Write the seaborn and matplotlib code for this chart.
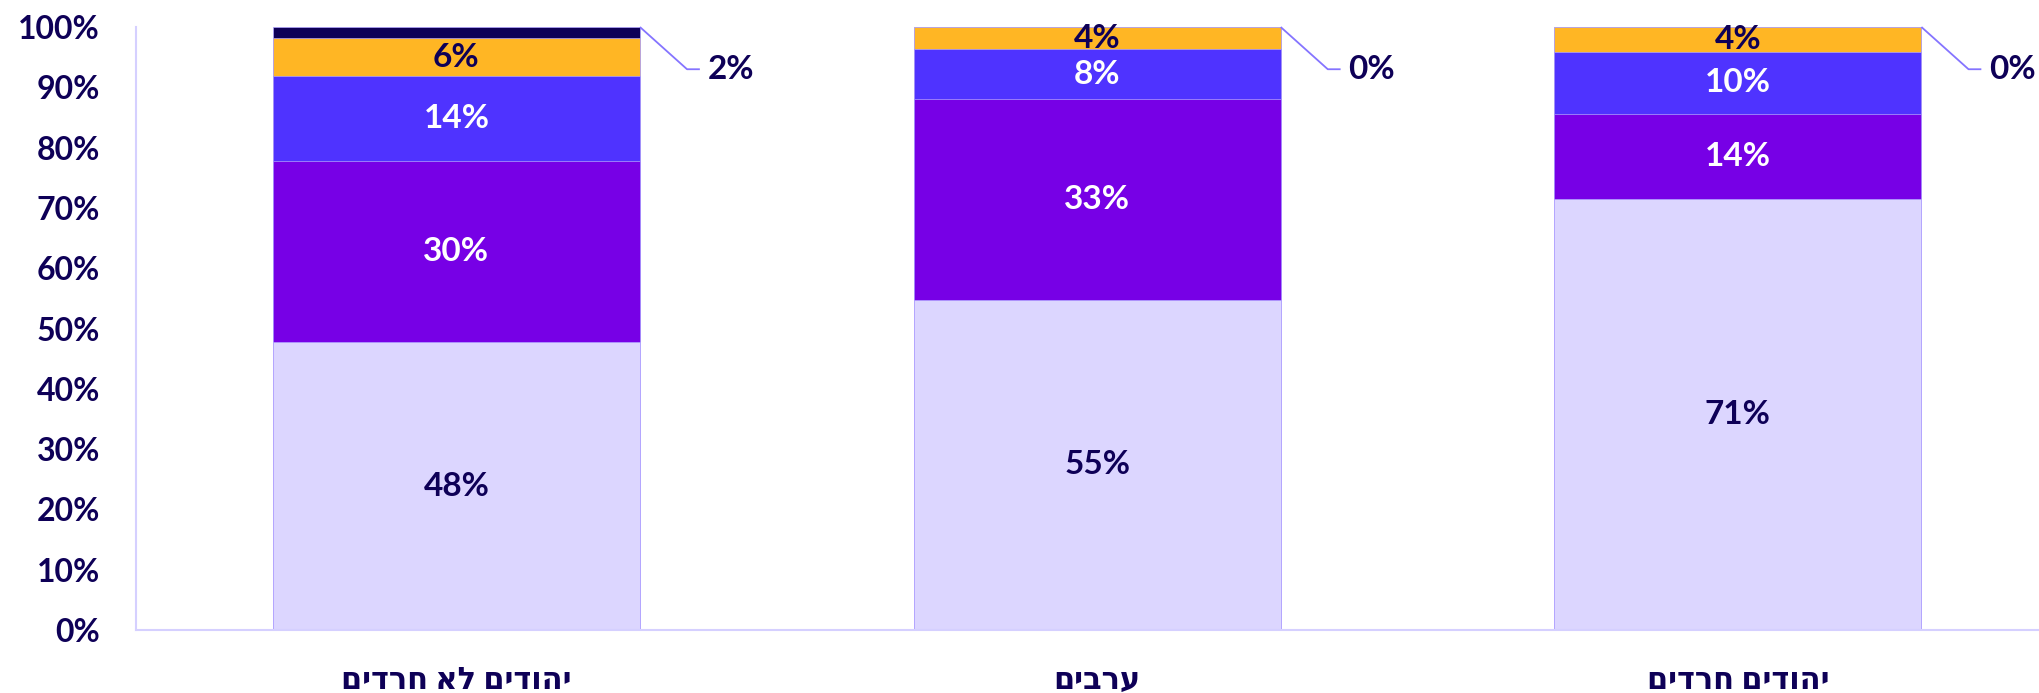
import numpy as np
import pandas as pd
import matplotlib
matplotlib.use('Agg')
import matplotlib.pyplot as plt
import seaborn as sns

sns.set_style('white')
plt.rcParams['font.family'] = ['Lato', 'Open Sans', 'DejaVu Sans']
plt.rcParams['font.weight'] = 'bold'

# data
categories = ['יהודים לא חרדים', 'ערבים', 'יהודים חרדים']
series_names = ['s1', 's2', 's3', 's4', 's5']
s1 = [47.7, 54.8, 71.4]
s2 = [30.1, 33.2, 14.2]
s3 = [14.0, 8.3, 10.3]
s4 = [6.3, 3.7, 4.1]
s5 = [1.9, 0.0, 0.0]
colors = ['#dcd6ff', '#7700e6', '#4f33ff', '#ffb624', '#0e0057']
label_colors = ['#0e0057', 'white', 'white', '#0e0057', '#0e0057']

navy = '#0e0057'
values = np.array([s1, s2, s3, s4, s5])
cum = values.cumsum(axis=0)
# show hebrew right-to-left
disp_cats = [c[::-1] for c in categories]

fig = plt.figure(figsize=(20.39, 6.93), dpi=100)
ax = fig.add_axes([0.0667, 0.0909, 0.9333, 0.8701])

# stacked bars: draw cumulative totals from top layer down
for i in range(len(series_names) - 1, -1, -1):
    df = pd.DataFrame({'cat': disp_cats, 'val': cum[i]})
    sns.barplot(data=df, x='cat', y='val', color=colors[i], saturation=1,
                width=0.573, edgecolor='#b0a3ff', linewidth=0.5, ax=ax)

# labels inside segments
for j in range(len(categories)):
    for i in range(4):
        y = cum[i, j] - values[i, j] / 2
        ax.text(j, y, f'{values[i, j]:.0f}%', ha='center', va='center',
                color=label_colors[i], fontsize=24, fontweight='bold')
    # top segment label with leader line
    x0 = j + 0.2865
    ax.plot([x0, j + 0.36, j + 0.38], [100, 93, 93], color='#8574ff', lw=1.3,
            clip_on=False, solid_capstyle='butt')
    ax.text(j + 0.392, 93, f'{values[4, j]:.0f}%', ha='left', va='center',
            color=navy, fontsize=24, fontweight='bold', clip_on=False)

ax.set_ylim(0, 100)
ax.set_xlim(-0.5, 2.47)
ax.set_yticks(range(0, 101, 10))
ax.set_yticklabels([f'{v}%' for v in range(0, 101, 10)])
ax.set_xlabel('')
ax.set_ylabel('')
ax.tick_params(axis='both', length=0, labelcolor=navy)
ax.tick_params(axis='y', pad=26, labelsize=23)
ax.tick_params(axis='x', pad=26, labelsize=22)
for lab in ax.get_xticklabels() + ax.get_yticklabels():
    lab.set_fontweight('bold')
for s in ['top', 'right']:
    ax.spines[s].set_visible(False)
for s in ['left', 'bottom']:
    ax.spines[s].set_color('#d5d0ff')
    ax.spines[s].set_linewidth(1.5)
ax.grid(False)

fig.savefig('out.png', dpi=100)
